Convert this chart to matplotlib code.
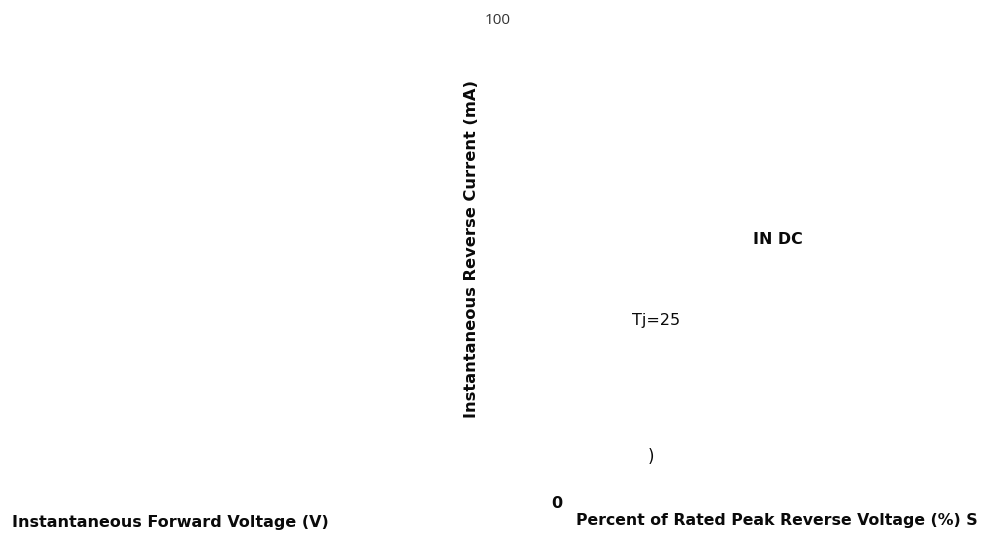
import matplotlib
matplotlib.use("Agg")
import matplotlib.pyplot as plt

# Text fragments (content only)
tick_labels = ["100", "0"]
axis_titles = ["Instantaneous Reverse Current (mA)",
               "Instantaneous Forward Voltage (V)",
               "Percent of Rated Peak Reverse Voltage (%) S"]
annotations = ["IN DC", "Tj=25", ")"]

W, H = 984, 535
fig = plt.figure(figsize=(W / 100, H / 100), dpi=100)
fig.patch.set_facecolor("white")
renderer = fig.canvas.get_renderer()

def px(x, y):
    return x / W, 1 - y / H

FAM = ["DejaVu Sans"]

def fit(t, target, vertical=False):
    """Scale font so the text spans `target` pixels along its reading direction."""
    for _ in range(3):
        bb = t.get_window_extent(renderer)
        cur = bb.height if vertical else bb.width
        t.set_fontsize(t.get_fontsize() * target / cur)
    return t

bold = dict(family=FAM, fontweight="bold", color="#0a0a0a")
reg = dict(family=FAM, color="#0a0a0a")

t = fig.text(*px(498, 20), tick_labels[0], ha="center", va="center", fontsize=11,
             family=["Open Sans", "DejaVu Sans"], color="#333333")
fit(t, 26)

t = fig.text(*px(472, 249), axis_titles[0], ha="center", va="center", rotation=90,
             fontsize=12, **bold)
fit(t, 338, vertical=True)

t = fig.text(*px(12, 522), axis_titles[1], ha="left", va="center", fontsize=12, **bold)
fit(t, 318)

t = fig.text(*px(576, 520), axis_titles[2], ha="left", va="center", fontsize=12, **bold)
fit(t, 400)

fig.text(*px(557, 503), tick_labels[1], ha="center", va="center", fontsize=11.5, **bold)

t = fig.text(*px(778, 239), annotations[0], ha="center", va="center", fontsize=12, **bold)
fit(t, 50)

t = fig.text(*px(632, 321), annotations[1], ha="left", va="center", fontsize=12, **reg)
fit(t, 48)

fig.text(*px(651, 457), annotations[2], ha="center", va="center", fontsize=12, **reg)

fig.savefig("out.png", dpi=100, facecolor="white")
